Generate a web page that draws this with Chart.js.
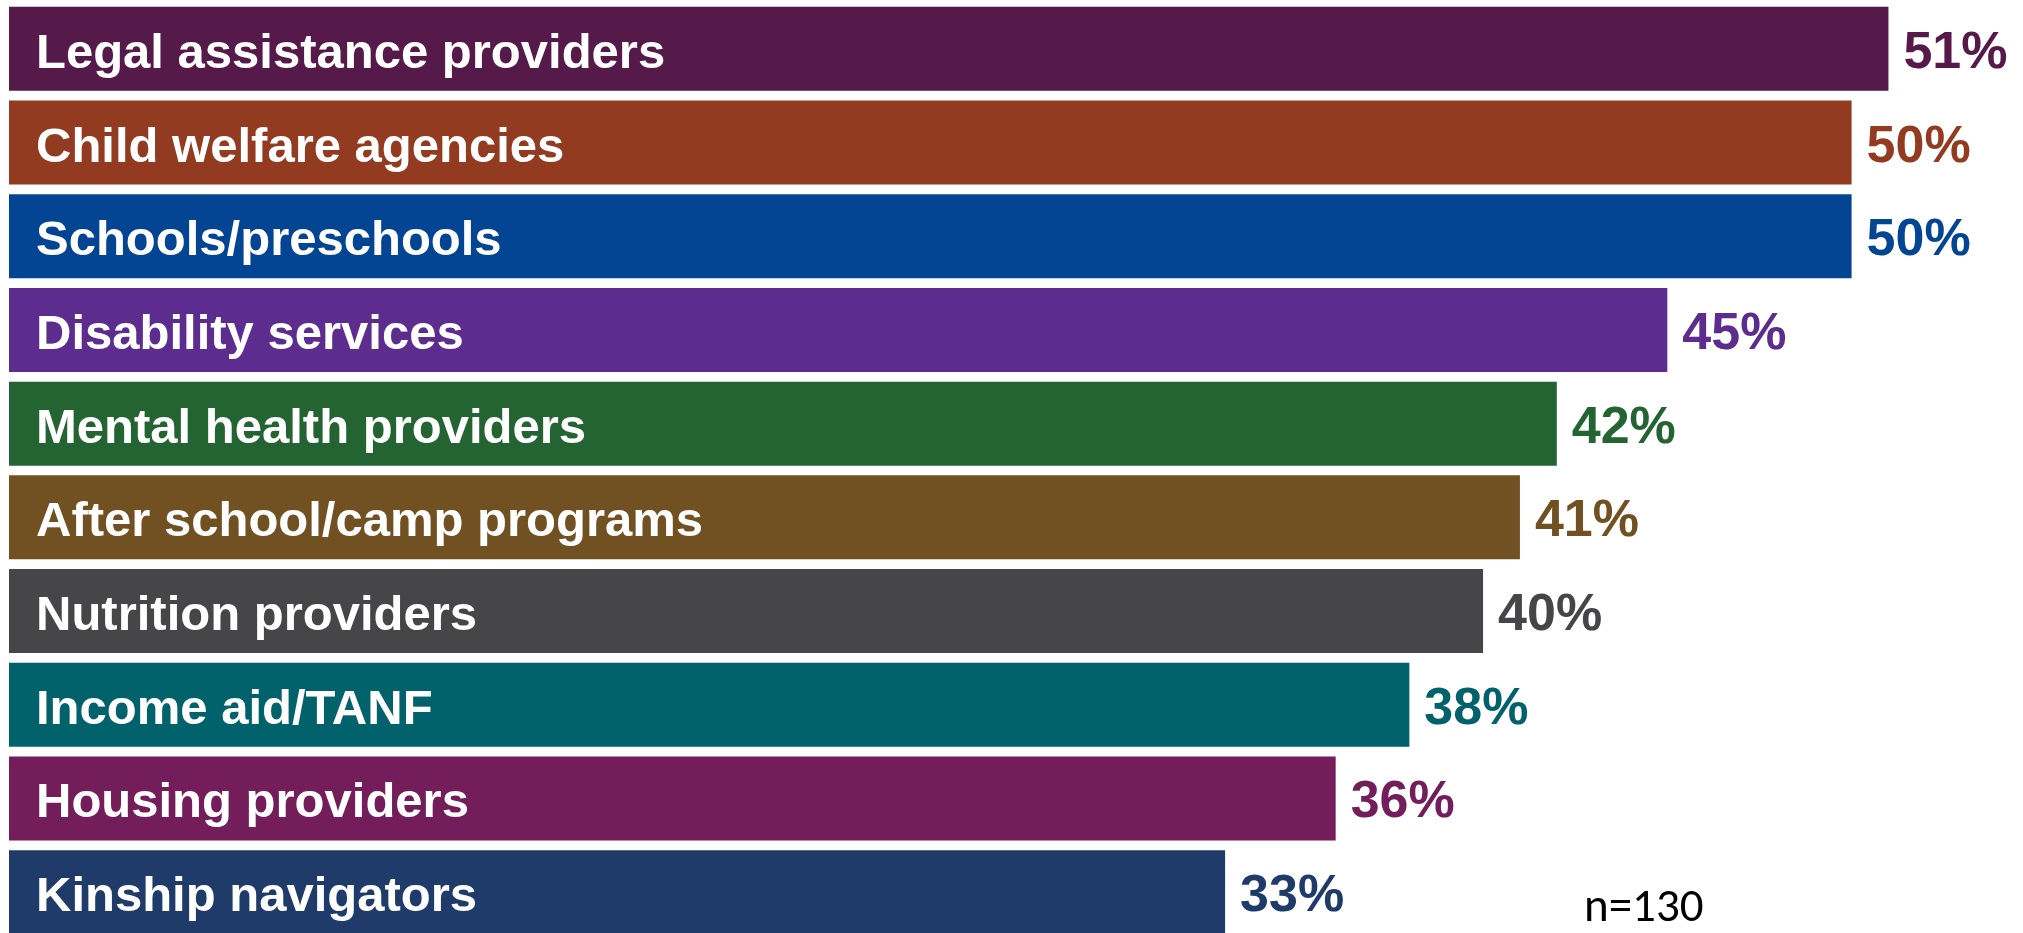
<!DOCTYPE html>
<html>
<head>
<meta charset="utf-8">
<script src="https://cdn.jsdelivr.net/npm/chart.js@4.4.0/dist/chart.umd.min.js"></script>
<style>
  html, body { margin: 0; padding: 0; background: #fff; overflow: hidden; }
  #wrap { width: 2023px; height: 933px; overflow: hidden; }
</style>
</head>
<body>
<div id="wrap"><canvas id="partnerChart" width="2023" height="940"></canvas></div>
<script>
'use strict';

/* ─── DATA ─── */
const categories = [
    'Legal assistance providers',
    'Child welfare agencies',
    'Schools/preschools',
    'Disability services',
    'Mental health providers',
    'After school/camp programs',
    'Nutrition providers',
    'Income aid/TANF',
    'Housing providers',
    'Kinship navigators',
];
// bar lengths as drawn (labels are rounded)
const shareValues = [51, 50, 50, 45, 42, 41, 40, 38, 36, 33];
const shareLabels = ['51%', '50%', '50%', '45%', '42%', '41%', '40%', '38%', '36%', '33%'];
const sampleNote = 'n=130';

/* ─── THEME ─── */
const BAR_COLORS = [
    '#55194A', '#923B20', '#034592', '#5C2D8E', '#246433',
    '#715122', '#464648', '#01626B', '#731E5A', '#1F3B6A',
];
const FONT = "'Liberation Sans', Arial, sans-serif";

/* ─── LABEL PLUGIN ─── */
const barLabels = {
    id: 'barLabels',
    afterDatasetsDraw(chart) {
        const { ctx } = chart;
        const meta = chart.getDatasetMeta(0);
        ctx.save();
        meta.data.forEach((bar, i) => {
            // category name inside the bar
            ctx.font = `bold 49px ${FONT}`;
            ctx.fillStyle = '#ffffff';
            ctx.textAlign = 'left';
            ctx.textBaseline = 'alphabetic';
            ctx.fillText(categories[i], chart.chartArea.left + 27, bar.y + 19);

            // value just past the bar end
            ctx.font = `bold 52px ${FONT}`;
            ctx.fillStyle = BAR_COLORS[i];
            ctx.fillText(shareLabels[i], bar.x + 15, bar.y + 19);
        });

        // sample size note
        ctx.font = `47px Carlito, Lato, ${FONT}`;
        ctx.fillStyle = '#000000';
        ctx.fillText(sampleNote, 1584, 921);
        ctx.restore();
    },
};

/* ─── CHART ─── */
new Chart(document.getElementById('partnerChart').getContext('2d'), {
    type: 'bar',
    data: {
        labels: categories,
        datasets: [{
            data: shareValues,
            backgroundColor: BAR_COLORS,
            borderWidth: 0,
            categoryPercentage: 1,
            barPercentage: 0.8965,
        }],
    },
    options: {
        indexAxis: 'y',
        responsive: false,
        animation: false,
        layout: { padding: { left: 9, right: 24, top: 2, bottom: 1 } },
        plugins: {
            legend: { display: false },
            tooltip: { enabled: false },
            title: { display: false },
        },
        scales: {
            x: { display: false, min: 0, max: 54 },
            y: { display: false },
        },
    },
    plugins: [barLabels],
});
</script>
</body>
</html>
